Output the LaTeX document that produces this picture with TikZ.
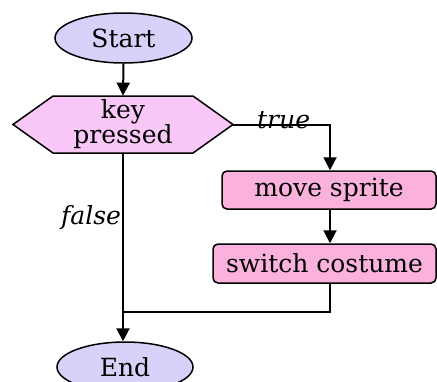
\documentclass[tikz,border=0pt]{standalone}
\usepackage{fontspec}
\setmainfont{DejaVu Serif}
\usetikzlibrary{shapes.geometric,arrows.meta}
\definecolor{termfill}{RGB}{214,210,250}
\definecolor{decfill}{RGB}{250,200,248}
\definecolor{procfill}{RGB}{250,178,220}
\begin{document}
\begin{tikzpicture}[x=0.5pt,y=-0.5pt,
  txt/.style={font=\fontsize{12.5}{12.5}\selectfont},
  term/.style={ellipse, draw=black, line width=0.75pt, fill=termfill, inner sep=0pt, txt},
  proc/.style={rectangle, rounded corners=2.5pt, draw=black, line width=0.75pt, fill=procfill, inner sep=0pt, txt},
  hexa/.style={draw=black, line width=0.75pt, fill=decfill},
  decbox/.style={rectangle, inner sep=0pt, align=center, minimum width=110pt, minimum height=28.5pt, txt},
  conn/.style={line width=1pt},
  flow/.style={conn, -{Triangle[length=6.5pt,width=6.5pt]}},
  lbl/.style={font=\fontsize{12.5}{12.5}\selectfont\itshape, inner sep=0.5pt}
]
\useasboundingbox (0,0) rectangle (437,381);

\node[term, minimum width=68.5pt, minimum height=25pt] (start) at (123.5,38) {Start};

\draw[hexa] (13,124.5) -- (53,96) -- (193,96) -- (233,124.5) -- (193,153) -- (53,153) -- cycle;
\node[decbox] (dec) at (123,124.5) {key\\pressed};

\node[proc, minimum width=107pt, minimum height=19pt] (move) at (329,190) {move sprite};
\node[proc, minimum width=111.5pt, minimum height=19.5pt] (switch) at (324.5,263.5) {switch costume};

\node[term, minimum width=68pt, minimum height=25pt] (end) at (125,367) {End};

\coordinate (merge) at (123,312);

\draw[flow] (start.south) -- (dec.north);
\draw[flow] (dec.east) -| node[lbl, pos=0.26, anchor=south, yshift=-3pt] {true} ([xshift=0.5pt]move.north);
\draw[flow] ([xshift=0.5pt]move.south) -- ([xshift=0.5pt]switch.north -| move.south);
\draw[conn] ([xshift=0.5pt]switch.south -| move.south) |- (merge);
\draw[flow] (dec.south) -- node[lbl, pos=0.34, anchor=east] {false} (dec.south |- end.north);
\end{tikzpicture}
\end{document}
